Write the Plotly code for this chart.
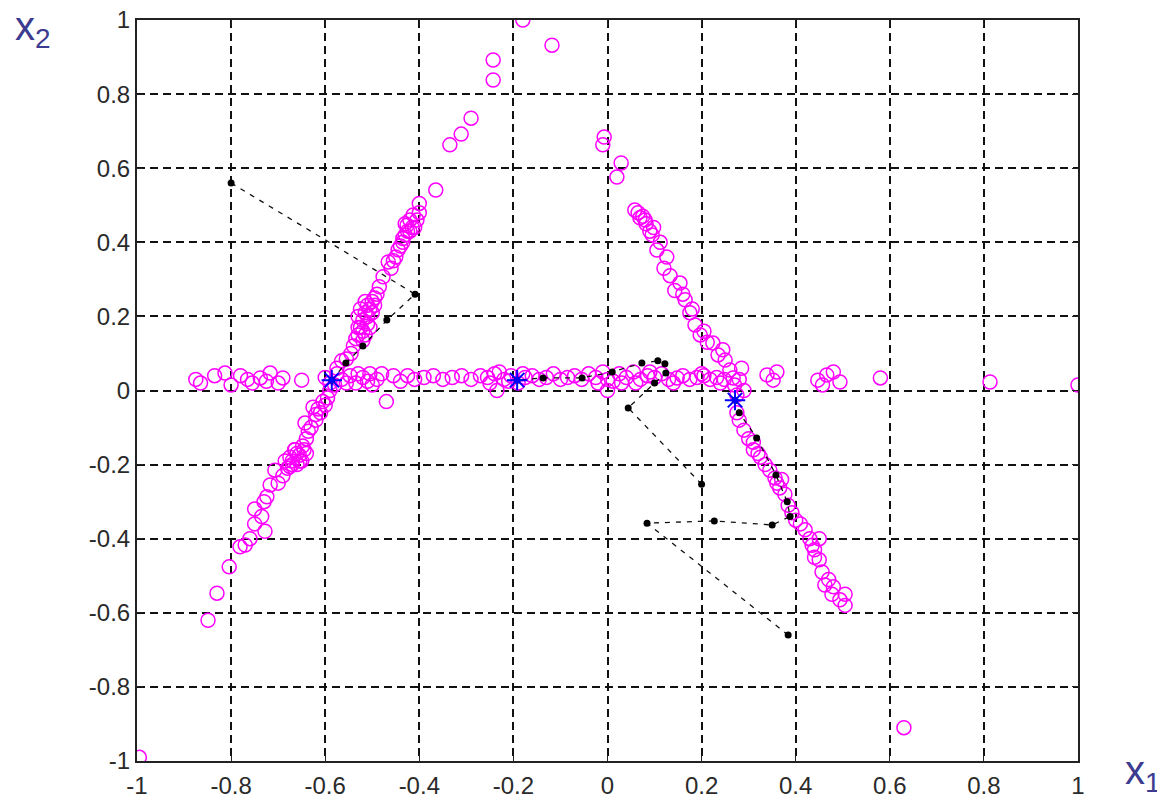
import plotly.graph_objects as go

# ---------------- data ----------------
# magenta open circles (x1, x2): horizontal band
band_x = [-0.875, -0.865, -0.835, -0.813, -0.80, -0.78, -0.765, -0.755, -0.738, -0.725, -0.717, -0.70, -0.69, -0.65,
          -0.60, -0.59, -0.575, -0.565, -0.547, -0.535, -0.52, -0.505, -0.49, -0.47, -0.455, -0.44, -0.425, -0.41,
          -0.39, -0.37, -0.35, -0.33, -0.31, -0.29, -0.27, -0.255, -0.24, -0.235, -0.22, -0.205, -0.19, -0.175,
          -0.16, -0.145, -0.13, -0.115, -0.10, -0.085, -0.07, -0.055, -0.04, -0.025, -0.01, 0.0, 0.012, 0.025,
          0.04, 0.055, 0.07, 0.085, 0.10, 0.115, 0.13, 0.148, 0.16, 0.175, 0.19, 0.205, 0.218, 0.232, 0.248,
          0.267, 0.339, 0.352, 0.36, 0.447, 0.457, 0.466, 0.48, 0.494, 0.58, 0.813, 1.0,
          -0.58, -0.555, -0.53, -0.51, -0.5, -0.48, -0.25, -0.23, -0.21, -0.18, -0.02, 0.0, 0.03, 0.06, 0.09,
          0.14, 0.2, 0.24]
band_y = [0.03, 0.02, 0.04, 0.047, 0.015, 0.04, 0.03, 0.02, 0.034, 0.025, 0.047, 0.02, 0.034, 0.028,
          0.035, 0.02, 0.045, 0.03, 0.04, 0.02, 0.035, 0.045, 0.03, -0.03, 0.04, 0.025, 0.04, 0.03,
          0.035, 0.04, 0.03, 0.035, 0.04, 0.03, 0.04, 0.035, 0.045, 0.0, 0.03, 0.04, 0.02, 0.035,
          0.04, 0.03, 0.035, 0.045, 0.03, 0.035, 0.04, 0.03, 0.045, 0.035, 0.05, 0.0, 0.025, 0.045,
          0.035, 0.05, 0.03, 0.04, 0.035, 0.045, 0.03, 0.034, 0.04, 0.03, 0.035, 0.04, 0.03, 0.035, 0.03,
          0.034, 0.042, 0.028, 0.05, 0.028, 0.015, 0.042, 0.05, 0.023, 0.034, 0.023, 0.015,
          0.015, 0.02, 0.045, 0.025, 0.015, 0.045, 0.02, 0.05, 0.025, 0.045, 0.02, 0.03, 0.02, 0.02, 0.05,
          0.02, 0.045, 0.02]

# left arm of the "A"
left_x = [-0.575, -0.565, -0.555, -0.545, -0.54, -0.535, -0.53, -0.525, -0.52, -0.52, -0.515, -0.51, -0.505,
          -0.50, -0.51, -0.495, -0.49, -0.485, -0.477, -0.466, -0.46, -0.455, -0.45, -0.445, -0.44, -0.435,
          -0.43, -0.426, -0.42, -0.415, -0.413, -0.405, -0.40, -0.40, -0.365, -0.335, -0.311, -0.29, -0.243,
          -0.243, -0.18, -0.118,
          -0.53, -0.525, -0.515, -0.51, -0.505, -0.50, -0.495, -0.52, -0.515, -0.53,
          -0.43, -0.42, -0.41, -0.435, -0.425,
          -0.59, -0.595, -0.60, -0.61, -0.615, -0.62, -0.626, -0.63, -0.636, -0.643, -0.64, -0.648, -0.654,
          -0.66, -0.664, -0.67, -0.675, -0.68, -0.685, -0.69, -0.70, -0.707, -0.717, -0.724, -0.73, -0.735,
          -0.75, -0.75, -0.728, -0.76, -0.77, -0.781, -0.804, -0.83, -0.849, -0.995,
          -0.665, -0.655, -0.645, -0.67, -0.66, -0.65, -0.64, -0.675, -0.605, -0.62]
left_y = [0.06, 0.08, 0.085, 0.10, 0.12, 0.14, 0.15, 0.17, 0.16, 0.19, 0.21, 0.18, 0.22,
          0.24, 0.23, 0.25, 0.26, 0.28, 0.307, 0.347, 0.33, 0.35, 0.36, 0.38, 0.39, 0.40,
          0.42, 0.446, 0.43, 0.44, 0.474, 0.46, 0.48, 0.505, 0.541, 0.663, 0.692, 0.735, 0.838,
          0.892, 1.0, 0.932,
          0.20, 0.22, 0.24, 0.20, 0.17, 0.21, 0.23, 0.135, 0.15, 0.17,
          0.45, 0.46, 0.44, 0.41, 0.43,
          0.0, -0.02, -0.04, -0.06, -0.05, -0.08, -0.045, -0.10, -0.11, -0.088, -0.13, -0.15, -0.19,
          -0.17, -0.16, -0.20, -0.18, -0.21, -0.19, -0.23, -0.25, -0.215, -0.255, -0.287, -0.30, -0.34,
          -0.32, -0.36, -0.38, -0.40, -0.417, -0.422, -0.476, -0.547, -0.62, -0.99,
          -0.16, -0.175, -0.16, -0.19, -0.20, -0.19, -0.17, -0.205, -0.03, -0.065]

# right arm of the "A"
right_x = [-0.007, -0.01, 0.029, 0.02, 0.058, 0.069, 0.075, 0.082, 0.09, 0.098, 0.105, 0.112, 0.126, 0.12,
           0.133, 0.143, 0.154, 0.16, 0.165, 0.175, 0.18, 0.186, 0.197, 0.205, 0.212, 0.224, 0.235, 0.245,
           0.25, 0.26, 0.27, 0.275,
           0.065, 0.08, 0.095, 0.285, 0.28, 0.29,
           0.275, 0.28, 0.29, 0.30, 0.31, 0.325, 0.335, 0.345, 0.356, 0.366, 0.377, 0.384, 0.392, 0.40,
           0.41, 0.42, 0.43, 0.435, 0.44, 0.45, 0.456, 0.462, 0.477, 0.494, 0.505, 0.505, 0.63,
           0.31, 0.32, 0.36, 0.37, 0.47, 0.48, 0.44, 0.45]
right_y = [0.684, 0.663, 0.614, 0.576, 0.487, 0.466, 0.47, 0.45, 0.43, 0.44, 0.379, 0.40, 0.36, 0.33,
           0.31, 0.27, 0.29, 0.26, 0.245, 0.21, 0.22, 0.177, 0.15, 0.16, 0.13, 0.128, 0.096, 0.11,
           0.082, 0.055, 0.015, -0.012,
           0.48, 0.46, 0.42, 0.06, 0.03, 0.0,
           -0.06, -0.08, -0.107, -0.13, -0.16, -0.18, -0.20, -0.215, -0.236, -0.263, -0.28, -0.31, -0.33, -0.35,
           -0.36, -0.376, -0.40, -0.418, -0.43, -0.457, -0.49, -0.525, -0.55, -0.565, -0.58, -0.55, -0.91,
           -0.14, -0.17, -0.25, -0.24, -0.51, -0.53, -0.45, -0.40]

# black dashed trajectories
traj1_x = [-0.80, -0.409, -0.469, -0.52, -0.556, -0.586]
traj1_y = [0.56, 0.26, 0.19, 0.12, 0.074, 0.028]
traj2_x = [0.384, 0.084, 0.227, 0.35, 0.388, 0.382, 0.358, 0.317, 0.28, 0.271]
traj2_y = [-0.66, -0.358, -0.352, -0.363, -0.34, -0.30, -0.228, -0.128, -0.06, -0.026]
traj3_x = [0.20, 0.044, 0.10, 0.124, 0.122, 0.107, 0.073, 0.01, -0.054, -0.137, -0.192]
traj3_y = [-0.253, -0.047, 0.02, 0.047, 0.072, 0.08, 0.074, 0.05, 0.034, 0.034, 0.028]

# blue stars (final positions)
star_x = [-0.586, -0.192, 0.271]
star_y = [0.028, 0.028, -0.026]

tick_vals = [-1, -0.8, -0.6, -0.4, -0.2, 0, 0.2, 0.4, 0.6, 0.8, 1]
tick_text = ["-1", "-0.8", "-0.6", "-0.4", "-0.2", "0", "0.2", "0.4", "0.6", "0.8", "1"]

# ---------------- figure ----------------
fig = go.Figure()
circ_x = band_x + left_x + right_x
circ_y = band_y + left_y + right_y
fig.add_trace(go.Scatter(x=circ_x, y=circ_y, mode="markers",
                         marker=dict(symbol="circle-open", size=14, color="#ff00ff",
                                     line=dict(width=1.5, color="#ff00ff")),
                         showlegend=False, hoverinfo="skip"))
for tx, ty in [(traj1_x, traj1_y), (traj2_x, traj2_y), (traj3_x, traj3_y)]:
    fig.add_trace(go.Scatter(x=tx, y=ty, mode="lines+markers",
                             line=dict(color="#111111", width=1.3, dash="5px,6px"),
                             marker=dict(symbol="circle", size=7, color="black"),
                             showlegend=False, hoverinfo="skip"))
fig.add_trace(go.Scatter(x=star_x, y=star_y, mode="markers",
                         marker=dict(symbol="asterisk-open", size=17,
                                     line=dict(width=2, color="#0000ff"), color="#0000ff"),
                         showlegend=False, hoverinfo="skip"))

axis_common = dict(range=[-1, 1], tickvals=tick_vals, ticktext=tick_text, automargin=False,
                   ticklabeloverflow="allow",
                   showgrid=True, gridcolor="#111111", gridwidth=1.5, griddash="8px,5px",
                   zeroline=False, showline=True, linecolor="#222222", linewidth=2,
                   mirror="ticks", ticks="inside", ticklen=6, tickcolor="#222222",
                   tickfont=dict(family="Liberation Sans, Arial", size=24, color="#2a2a2a"))

fig.update_xaxes(**axis_common, ticklabelstandoff=2)
fig.update_yaxes(**axis_common)

# the page body adds an 8 px offset, so the figure is 8 px smaller and margins compensate
fig.update_layout(
    width=1157, height=792,
    margin=dict(l=129, r=87, t=12, b=39, autoexpand=False),
    paper_bgcolor="white", plot_bgcolor="white",
    annotations=[
        dict(text="x<sub>2</sub>", xref="paper", yref="paper", x=-0.1105, y=0.988,
             xanchor="center", yanchor="middle", showarrow=False,
             font=dict(family="Liberation Sans, Arial", size=40, color="#3b3b8f")),
        dict(text="x<sub>1</sub>", xref="paper", yref="paper", x=1.069, y=-0.016,
             xanchor="center", yanchor="middle", showarrow=False,
             font=dict(family="Liberation Sans, Arial", size=40, color="#3b3b8f")),
    ],
)

fig.write_html("out.html")
